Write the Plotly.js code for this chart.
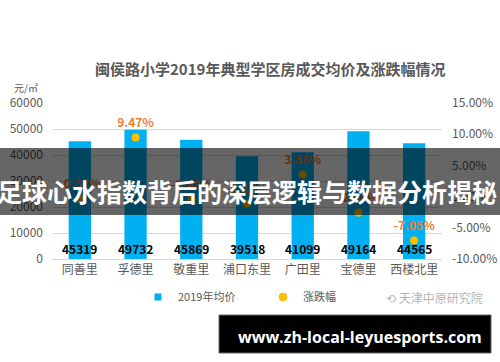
<!DOCTYPE html>
<html>
<head>
<meta charset="utf-8">
<script src="https://cdn.plot.ly/plotly-3.0.1.min.js"></script>
<style>
html,body{margin:0;padding:0;background:#fff;}
#chart{width:500px;height:362px;}
</style>
</head>
<body>
<div id="chart"></div>
<script>
const categories = ['同善里','孚德里','敬重里','浦口东里','广田里','宝德里','西楼北里'];
const avgPrice = [45319, 49732, 45869, 39518, 41099, 49164, 44565];
const changePct = [-0.0032, 0.0947, -0.0048, -0.0112, 0.0356, -0.0256, -0.0705];
const seriesNames = ['2019年均价', '涨跌幅'];
const leftTicks = [0, 10000, 20000, 30000, 40000, 50000, 60000];
const rightTicks = [-0.10, -0.05, 0, 0.05, 0.10, 0.15];

const FONT = '"Microsoft YaHei","Noto Sans CJK SC","Noto Sans",sans-serif';
const GRAY = '#595959';
const BLUE = '#00B0F0';

const barTrace = {
  type: 'bar', name: seriesNames[0], x: categories, y: avgPrice, showlegend: false,
  marker: {color: BLUE}, hoverinfo: 'skip'
};
// legend swatch for the bar series (small square, as in the reference)
const barLegend = {
  type: 'scatter', mode: 'markers', name: seriesNames[0], x: [null], y: [null],
  marker: {symbol: 'square', color: BLUE, size: 7}, hoverinfo: 'skip'
};
const dotTrace = {
  type: 'scatter', mode: 'markers', name: seriesNames[1], x: categories, y: changePct,
  yaxis: 'y2', marker: {color: '#FFC000', size: 8, line: {color: '#F0A800', width: 0.5}},
  hoverinfo: 'skip'
};
const dotLabelTrace = {
  type: 'scatter', mode: 'markers+text', showlegend: false, x: categories, y: changePct,
  yaxis: 'y2', text: changePct.map(v => (v * 100).toFixed(2) + '%'),
  marker: {size: 10, opacity: 0},
  textposition: 'top center',
  textfont: {family: FONT, size: 12, color: '#ED7D31', weight: 'bold'},
  hoverinfo: 'skip', cliponaxis: false
};

const annotations = categories.map((c, i) => ({
  x: c, y: 0, xref: 'x', yref: 'y', text: '<b>' + avgPrice[i] + '</b>',
  showarrow: false, yanchor: 'bottom', yshift: 0,
  font: {family: FONT, size: 12, color: '#000'}
}));

annotations.push({
  xref: 'paper', yref: 'paper', x: 0.56, y: 1.22, xanchor: 'center', yanchor: 'middle',
  text: '<b>闽侯路小学2019年典型学区房成交均价及涨跌幅情况</b>', showarrow: false,
  font: {family: FONT, size: 15, color: GRAY}
});
annotations.push({
  xref: 'paper', yref: 'paper', x: -0.03, y: 1.1, xanchor: 'right', yanchor: 'middle',
  text: '元/㎡', showarrow: false, font: {family: FONT, size: 10, color: GRAY}
});
annotations.push({
  xref: 'paper', yref: 'paper', x: 1.11, y: -0.245, xanchor: 'right', yanchor: 'middle',
  text: '⟲ 天津中原研究院', showarrow: false, font: {family: FONT, size: 12, color: '#b5b5b5'}
});
annotations.push({
  xref: 'paper', yref: 'paper', x: 0.5, y: 0.435, xanchor: 'center', yanchor: 'middle',
  text: '<b>足球心水指数背后的深层逻辑与数据分析揭秘</b>', showarrow: false,
  font: {family: FONT, size: 25, color: '#ffffff'}
});
annotations.push({
  xref: 'paper', yref: 'paper', x: 0.79, y: -0.5, xanchor: 'center', yanchor: 'middle',
  text: '<b>www.zh-local-leyuesports.com</b>', showarrow: false,
  font: {family: '"Open Sans","DejaVu Sans",sans-serif', size: 16, color: '#ffffff'}
});

// paper: x 52..442 (390px), y 103..259 (156px)
const px = v => (v - 52) / 390;
const py = v => (259 - v) / 156;

const shapes = [
  {type: 'rect', xref: 'paper', yref: 'paper', x0: px(0), x1: px(500), y0: py(215), y1: py(148),
   fillcolor: 'rgba(0,0,0,0.6)', line: {width: 0}, layer: 'above'},
  {type: 'rect', xref: 'paper', yref: 'paper', x0: px(219), x1: px(491), y0: py(353), y1: py(315),
   fillcolor: '#000000', line: {color: '#666', width: 1}, layer: 'above'}
];

const layout = {
  width: 500, height: 362,
  margin: {l: 52, r: 58, t: 103, b: 103, pad: 0},
  paper_bgcolor: '#fff', plot_bgcolor: '#fff',
  font: {family: FONT, color: GRAY, size: 11},
  bargap: 0.6,
  showlegend: true,
  legend: {orientation: 'h', x: px(138), xanchor: 'left', y: py(297), yanchor: 'middle',
           font: {family: FONT, size: 11, color: GRAY}, itemwidth: 30,
           entrywidth: 80, entrywidthmode: 'pixels', bgcolor: 'rgba(0,0,0,0)'},
  xaxis: {type: 'category', showgrid: false, showline: true, linecolor: '#d9d9d9', linewidth: 1,
          ticks: '', tickfont: {family: FONT, size: 12, color: GRAY}, fixedrange: true},
  yaxis: {range: [0, 60000], tickvals: leftTicks, ticktext: leftTicks.map(String),
          showgrid: true, gridcolor: '#d9d9d9', gridwidth: 1, zeroline: false,
          ticks: '', ticklabelstandoff: 8, tickfont: {family: FONT, size: 12, color: GRAY}},
  yaxis2: {overlaying: 'y', side: 'right', range: [-0.10, 0.15], tickvals: rightTicks,
           ticktext: rightTicks.map(v => (v * 100).toFixed(2) + '%'),
           showgrid: false, zeroline: false, ticks: '', ticklabelstandoff: 9,
           tickfont: {family: FONT, size: 12, color: GRAY}},
  annotations: annotations,
  shapes: shapes
};

Plotly.newPlot('chart', [barTrace, barLegend, dotTrace, dotLabelTrace], layout, {staticPlot: true, displayModeBar: false});
</script>
</body>
</html>
